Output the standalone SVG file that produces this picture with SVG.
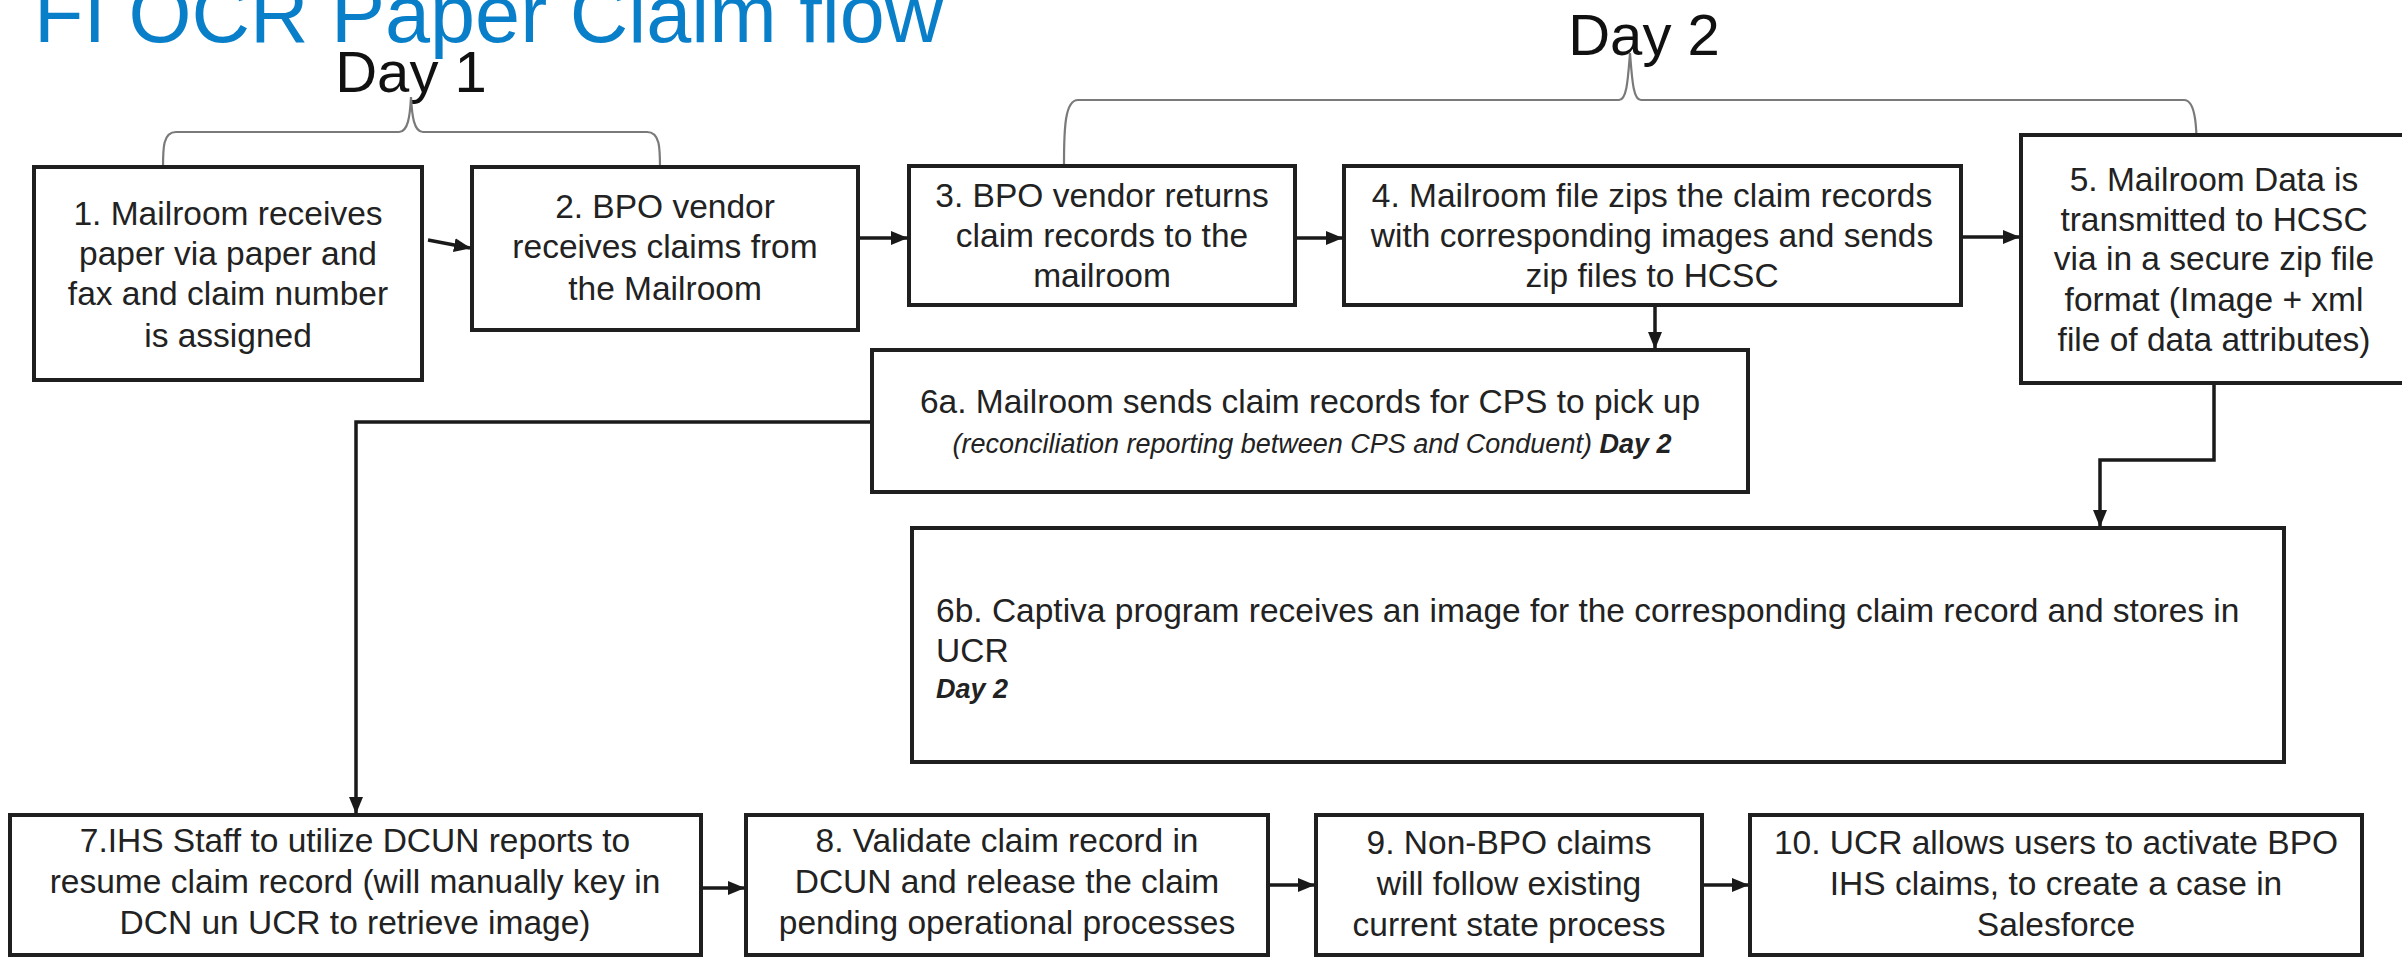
<svg xmlns="http://www.w3.org/2000/svg" width="2402" height="957" viewBox="0 0 2402 957">
<defs>
<marker id="ah" markerUnits="userSpaceOnUse" markerWidth="18" markerHeight="14" refX="16" refY="7" orient="auto">
<path d="M0,0 L17,7 L0,14 z" fill="#1a1a1a"/>
</marker>
<style>
.box{fill:#fff;stroke:#1f1f1f;stroke-width:4}
.t{font-family:"Liberation Sans",Arial,sans-serif;font-size:33.5px;fill:#222}
.c{text-anchor:middle}
.day{font-family:"Liberation Sans",Arial,sans-serif;font-size:58px;fill:#111;text-anchor:middle}
.brace{fill:none;stroke:#7a7a7a;stroke-width:2.2}
.conn{fill:none;stroke:#1a1a1a;stroke-width:3.5;marker-end:url(#ah)}
.it{font-family:"Liberation Sans",Arial,sans-serif;font-size:27px;font-style:italic;fill:#222}
</style>
</defs>
<rect x="0" y="0" width="2402" height="957" fill="#fff"/>
<text x="34" y="42" font-family="Liberation Sans, Arial, sans-serif" font-size="81" fill="#0A7FC9">FI OCR Paper Claim flow</text>
<g id="labels">
<text class="day" x="411" y="92">Day 1</text>
<text class="day" x="1644" y="55">Day 2</text>
<path class="brace" d="M163,168 C163,148 163,132 176,132 L399,132 C408,132 410,116 411,97 C412,116 414,132 423,132 L647,132 C660,132 660,148 660,168"/>
<path class="brace" d="M1064,164 C1064,128 1065,100 1078,100 L1619,100 C1627,100 1628,78 1630,53 C1632,78 1633,100 1641,100 L2184,100 C2196,100 2197,128 2197,163"/>
</g>
<g id="n1"><rect class="box" x="34" y="167" width="388" height="213"/>
<text class="t c" x="228"><tspan x="228" y="225">1. Mailroom receives</tspan><tspan x="228" y="265">paper via paper and</tspan><tspan x="228" y="305">fax and claim number</tspan><tspan x="228" y="347">is assigned</tspan></text></g>
<g id="n2"><rect class="box" x="472" y="167" width="386" height="163"/>
<text class="t c"><tspan x="665" y="218">2. BPO vendor</tspan><tspan x="665" y="258">receives claims from</tspan><tspan x="665" y="300">the Mailroom</tspan></text></g>
<g id="n3"><rect class="box" x="909" y="166" width="386" height="139"/>
<text class="t c"><tspan x="1102" y="207">3. BPO vendor returns</tspan><tspan x="1102" y="247">claim records to the</tspan><tspan x="1102" y="287">mailroom</tspan></text></g>
<g id="n4"><rect class="box" x="1344" y="166" width="617" height="139"/>
<text class="t c"><tspan x="1652" y="207">4. Mailroom file zips the claim records</tspan><tspan x="1652" y="247">with corresponding images and sends</tspan><tspan x="1652" y="287">zip files to HCSC</tspan></text></g>
<g id="n5"><rect class="box" x="2021" y="135" width="400" height="248"/>
<text class="t c"><tspan x="2214" y="191">5. Mailroom Data is</tspan><tspan x="2214" y="231">transmitted to HCSC</tspan><tspan x="2214" y="270">via in a secure zip file</tspan><tspan x="2214" y="311">format (Image + xml</tspan><tspan x="2214" y="351">file of data attributes)</tspan></text></g>
<g id="n6a"><rect class="box" x="872" y="350" width="876" height="142"/>
<text class="t c" x="1310" y="413">6a. Mailroom sends claim records for CPS to pick up</text>
<text class="it c" x="1312" y="453">(reconciliation reporting between CPS and Conduent) <tspan font-weight="bold">Day 2</tspan></text></g>
<g id="n6b"><rect class="box" x="912" y="528" width="1372" height="234"/>
<text class="t"><tspan x="936" y="622">6b. Captiva program receives an image for the corresponding claim record and stores in</tspan><tspan x="936" y="662">UCR</tspan></text>
<text class="it" x="936" y="698" font-weight="bold">Day 2</text></g>
<g id="n7"><rect class="box" x="10" y="815" width="691" height="140"/>
<text class="t c"><tspan x="355" y="852">7.IHS Staff to utilize DCUN reports to</tspan><tspan x="355" y="893">resume claim record (will manually key in</tspan><tspan x="355" y="934">DCN un UCR to retrieve image)</tspan></text></g>
<g id="n8"><rect class="box" x="746" y="815" width="522" height="140"/>
<text class="t c"><tspan x="1007" y="852">8. Validate claim record in</tspan><tspan x="1007" y="893">DCUN and release the claim</tspan><tspan x="1007" y="934">pending operational processes</tspan></text></g>
<g id="n9"><rect class="box" x="1316" y="815" width="386" height="140"/>
<text class="t c"><tspan x="1509" y="854">9. Non-BPO claims</tspan><tspan x="1509" y="895">will follow existing</tspan><tspan x="1509" y="936">current state process</tspan></text></g>
<g id="n10"><rect class="box" x="1750" y="815" width="612" height="140"/>
<text class="t c"><tspan x="2056" y="854">10. UCR allows users to activate BPO</tspan><tspan x="2056" y="895">IHS claims, to create a case in</tspan><tspan x="2056" y="936">Salesforce</tspan></text></g>
<g id="connectors">
<path class="conn" d="M428,240 L470,248"/>
<path class="conn" d="M860,238 L907,238"/>
<path class="conn" d="M1297,238 L1342,238"/>
<path class="conn" d="M1963,237 L2019,237"/>
<path class="conn" d="M1655,307 L1655,348"/>
<path class="conn" d="M870,422 L356,422 L356,813"/>
<path class="conn" d="M2214,385 L2214,460 L2100,460 L2100,526"/>
<path class="conn" d="M703,888 L744,888"/>
<path class="conn" d="M1270,885 L1314,885"/>
<path class="conn" d="M1704,885 L1748,885"/>
</g>
</svg>
